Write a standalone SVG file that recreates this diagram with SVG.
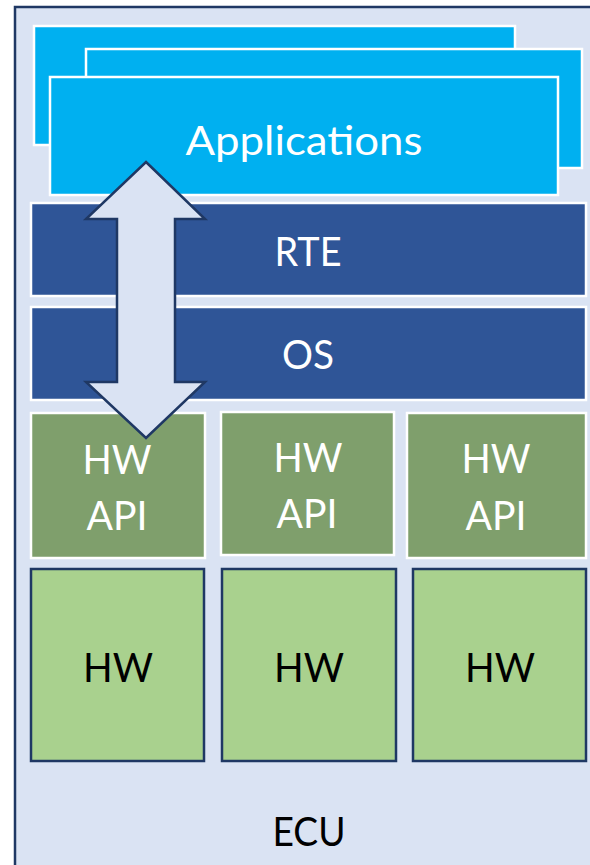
<svg xmlns="http://www.w3.org/2000/svg" width="590" height="865" viewBox="0 0 590 865">
<style>
.app{fill:#00b0f0;stroke:#ffffff;stroke-width:2.5}
.dark{fill:#2f5597;stroke:#ffffff;stroke-width:2.5}
.api{fill:#7f9f6c;stroke:#ffffff;stroke-width:2.5}
.hw{fill:#a9d18e;stroke:#1f3864;stroke-width:2.5}
text{font-family:Lato,"Liberation Sans",sans-serif;font-size:41px;text-anchor:middle}
.w{fill:#ffffff}
.k{fill:#000000}
</style>
<rect width="590" height="865" fill="#ffffff"/>
<g id="ecu">
<rect x="15" y="7" width="600" height="880" fill="#dae3f3" stroke="#1f3864" stroke-width="2.5"/>
<text class="k" x="309" y="846" textLength="73" lengthAdjust="spacingAndGlyphs">ECU</text>
</g>
<g id="applications">
<rect class="app" x="34" y="26" width="481" height="119"/>
<rect class="app" x="86" y="49" width="496" height="119"/>
<rect class="app" x="50" y="77" width="508" height="118"/>
<text class="w" x="304" y="155" textLength="237" lengthAdjust="spacingAndGlyphs">Applications</text>
</g>
<g id="rte">
<rect class="dark" x="31" y="203" width="555" height="93"/>
<text class="w" x="308" y="266" textLength="67" lengthAdjust="spacingAndGlyphs">RTE</text>
</g>
<g id="os">
<rect class="dark" x="31" y="307" width="555" height="93"/>
<text class="w" x="308" y="369" textLength="52" lengthAdjust="spacingAndGlyphs">OS</text>
</g>
<g id="hwapi1">
<rect class="api" x="31" y="413" width="174" height="145"/>
<text class="w" x="117" y="474" textLength="69" lengthAdjust="spacingAndGlyphs">HW</text>
<text class="w" x="117" y="530" textLength="61" lengthAdjust="spacingAndGlyphs">API</text>
</g>
<g id="hwapi2">
<rect class="api" x="221" y="412" width="173" height="143"/>
<text class="w" x="308" y="472" textLength="69" lengthAdjust="spacingAndGlyphs">HW</text>
<text class="w" x="307" y="528" textLength="61" lengthAdjust="spacingAndGlyphs">API</text>
</g>
<g id="hwapi3">
<rect class="api" x="407" y="413" width="179" height="145"/>
<text class="w" x="496" y="473" textLength="69" lengthAdjust="spacingAndGlyphs">HW</text>
<text class="w" x="496" y="530" textLength="61" lengthAdjust="spacingAndGlyphs">API</text>
</g>
<g id="hw1">
<rect class="hw" x="31" y="569" width="173" height="192"/>
<text class="k" x="118" y="682" textLength="70" lengthAdjust="spacingAndGlyphs">HW</text>
</g>
<g id="hw2">
<rect class="hw" x="222" y="569" width="174" height="192"/>
<text class="k" x="309" y="682" textLength="70" lengthAdjust="spacingAndGlyphs">HW</text>
</g>
<g id="hw3">
<rect class="hw" x="413" y="569" width="173" height="192"/>
<text class="k" x="500" y="682" textLength="70" lengthAdjust="spacingAndGlyphs">HW</text>
</g>
<g id="connectors">
<polygon points="146,162 205,219 175,219 175,382 205,382 146,438 86,382 117,382 117,219 86,219" fill="#dae3f3" stroke="#1f3864" stroke-width="2.5" stroke-linejoin="miter"/>
</g>
</svg>
